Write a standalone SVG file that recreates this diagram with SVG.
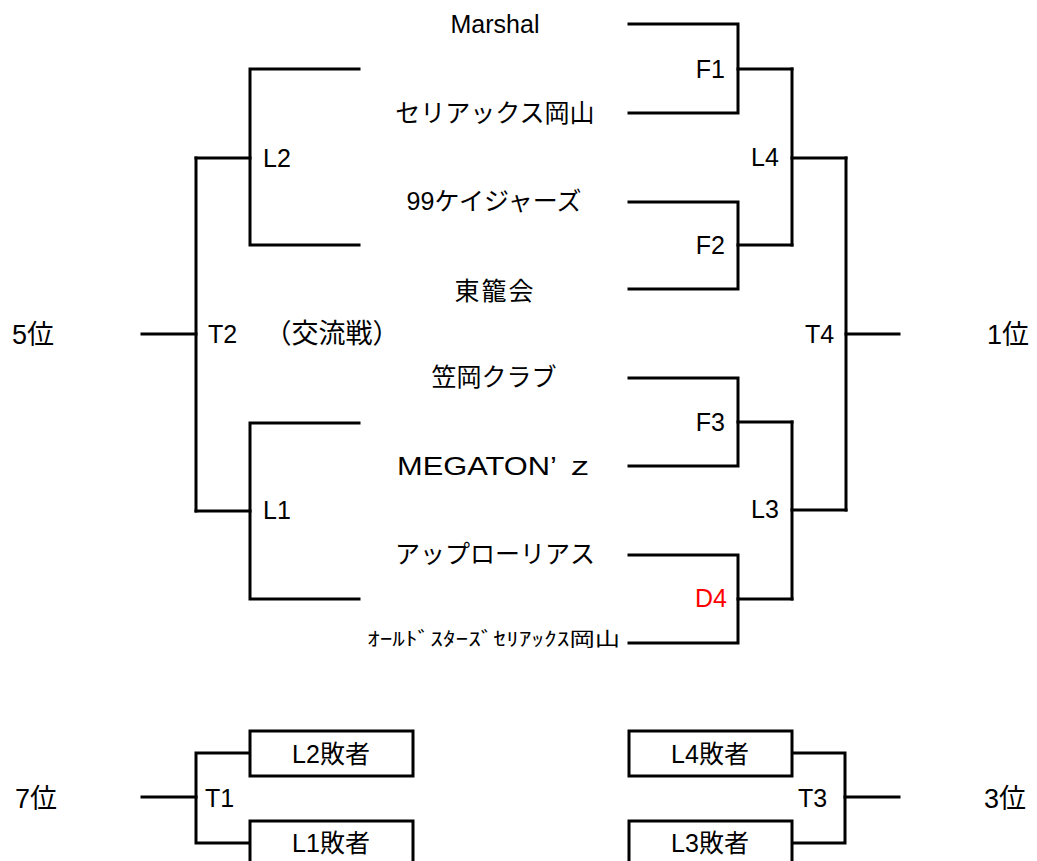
<svg xmlns="http://www.w3.org/2000/svg" width="1037" height="861" viewBox="0 0 1037 861">
<style>
.ln{fill:none;stroke:#000;stroke-width:3;stroke-linejoin:miter;stroke-linecap:square}
.bx{fill:#fff;stroke:#000;stroke-width:3}
text{font-family:"Liberation Sans","Noto Sans CJK JP",sans-serif;font-size:25px;fill:#000}
.tm{text-anchor:middle}
.lb{font-size:25px}
.rk{font-size:27px}
.end{text-anchor:end}
.red{fill:#ff0000}
</style>
<rect width="1037" height="861" fill="#fff"/>
<g id="connectors">
<polyline class="ln" points="629,24 738,24 738,113 629,113"/>
<polyline class="ln" points="738,69 792,69"/>
<polyline class="ln" points="629,202 738,202 738,289 629,289"/>
<polyline class="ln" points="738,245 792,245"/>
<polyline class="ln" points="792,69 792,245"/>
<polyline class="ln" points="792,158 846,158"/>
<polyline class="ln" points="629,378 738,378 738,466 629,466"/>
<polyline class="ln" points="738,422 792,422"/>
<polyline class="ln" points="629,555 738,555 738,643 629,643"/>
<polyline class="ln" points="738,599 792,599"/>
<polyline class="ln" points="792,422 792,599"/>
<polyline class="ln" points="792,510 846,510"/>
<polyline class="ln" points="846,158 846,510"/>
<polyline class="ln" points="846,334 899,334"/>
<polyline class="ln" points="359,69 250,69 250,245 359,245"/>
<polyline class="ln" points="250,158 196,158"/>
<polyline class="ln" points="359,423 250,423 250,599 359,599"/>
<polyline class="ln" points="250,511 196,511"/>
<polyline class="ln" points="196,158 196,511"/>
<polyline class="ln" points="196,334 142,334"/>
<polyline class="ln" points="250,753 196,753 196,843 250,843"/>
<polyline class="ln" points="196,797 142,797"/>
<polyline class="ln" points="792,753 845,753 845,843 792,843"/>
<polyline class="ln" points="845,797 899,797"/>
</g>
<g id="team-marshal"><text class="tm" x="495" y="33">Marshal</text></g>
<g id="team-seriax"><text class="tm" x="495" y="122">セリアックス岡山</text></g>
<g id="team-99"><text class="tm" x="494" y="210">99ケイジャーズ</text></g>
<g id="team-toro"><text class="tm" x="495" y="300" letter-spacing="2">東籠会</text></g>
<g id="team-kasaoka"><text class="tm" x="494" y="386">笠岡クラブ</text></g>
<g id="team-megaton"><text x="397" y="475" textLength="198" lengthAdjust="spacingAndGlyphs">MEGATON’ ｚ</text></g>
<g id="team-apple"><text class="tm" x="495" y="563">アップローリアス</text></g>
<g id="team-allstars"><text x="367" y="646" textLength="253" lengthAdjust="spacingAndGlyphs" style="font-size:19px">ｵｰﾙﾄﾞｽﾀｰｽﾞｾﾘｱｯｸｽ岡山</text></g>
<g id="match-L2"><text class="lb" x="263" y="167">L2</text></g>
<g id="match-L1"><text class="lb" x="263" y="519">L1</text></g>
<g id="match-T2"><text class="lb" x="208" y="343">T2</text><text class="tm" x="332" y="343" style="font-size:27px">（交流戦）</text></g>
<g id="match-F1"><text class="lb end" x="725" y="78">F1</text></g>
<g id="match-F2"><text class="lb end" x="725" y="254">F2</text></g>
<g id="match-F3"><text class="lb end" x="725" y="431">F3</text></g>
<g id="match-D4"><text class="lb end red" x="727" y="607">D4</text></g>
<g id="match-L4"><text class="lb" x="751" y="166">L4</text></g>
<g id="match-L3"><text class="lb" x="751" y="518">L3</text></g>
<g id="match-T4"><text class="lb" x="805" y="343">T4</text></g>
<g id="rank-5"><text class="rk" x="12" y="344">5位</text></g>
<g id="rank-1"><text class="rk" x="987" y="344">1位</text></g>
<g id="rank-7"><text class="rk" x="15" y="808">7位</text></g>
<g id="match-T1"><text class="lb" x="205" y="807">T1</text></g>
<g id="match-T3"><text class="lb" x="798" y="807">T3</text></g>
<g id="rank-3"><text class="rk" x="984" y="808">3位</text></g>
<g id="box-L2loser"><rect class="bx" x="250" y="731" width="163" height="45"/><text class="tm" x="331" y="763">L2敗者</text></g>
<g id="box-L1loser"><rect class="bx" x="250" y="821" width="163" height="50"/><text class="tm" x="331" y="852">L1敗者</text></g>
<g id="box-L4loser"><rect class="bx" x="629" y="731" width="163" height="45"/><text class="tm" x="710" y="763">L4敗者</text></g>
<g id="box-L3loser"><rect class="bx" x="629" y="821" width="163" height="50"/><text class="tm" x="710" y="852">L3敗者</text></g>
</svg>
